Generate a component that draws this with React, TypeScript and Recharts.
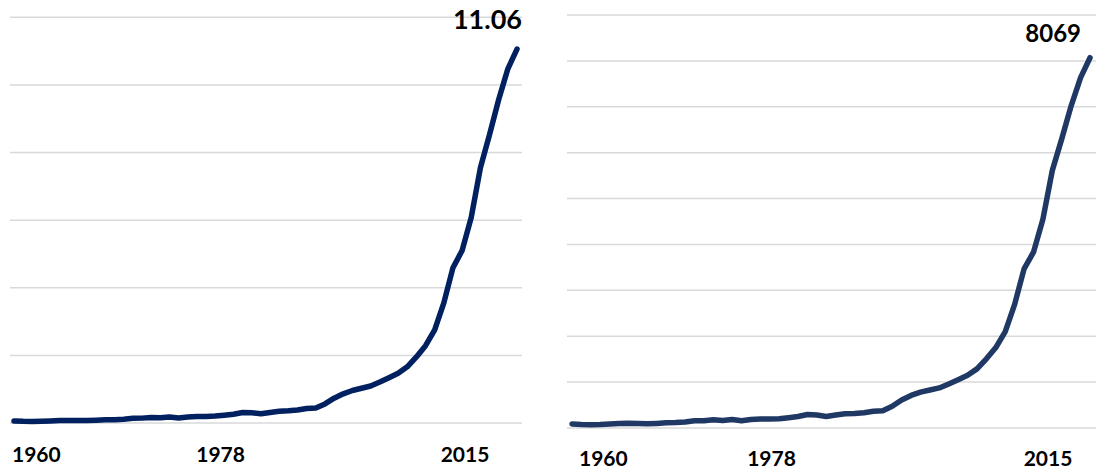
import { LineChart, Line, XAxis, YAxis, CartesianGrid, LabelList } from 'recharts';

// China, 1960-2015 (World Bank series as plotted)
const YEARS = [
  1960, 1961, 1962, 1963, 1964, 1965, 1966, 1967, 1968, 1969,
  1970, 1971, 1972, 1973, 1974, 1975, 1976, 1977, 1978, 1979,
  1980, 1981, 1982, 1983, 1984, 1985, 1986, 1987, 1988, 1989,
  1990, 1991, 1992, 1993, 1994, 1995, 1996, 1997, 1998, 1999,
  2000, 2001, 2002, 2003, 2004, 2005, 2006, 2007, 2008, 2009,
  2010, 2011, 2012, 2013, 2014, 2015,
];

// GDP, trillions of current US$
const GDP_TRILLION = [
  0.0597, 0.05, 0.0472, 0.0507, 0.0597, 0.0704, 0.0767, 0.0729, 0.0709, 0.0797,
  0.0926, 0.0996, 0.1137, 0.1385, 0.1442, 0.1634, 0.1539, 0.1749, 0.1495, 0.1783,
  0.1911, 0.1958, 0.205, 0.2303, 0.2599, 0.3094, 0.3008, 0.2729, 0.3127, 0.3478,
  0.3609, 0.3834, 0.4269, 0.4447, 0.5643, 0.7345, 0.8637, 0.9615, 1.029, 1.094,
  1.2113, 1.3394, 1.4706, 1.6603, 1.9553, 2.286, 2.7521, 3.5522, 4.5944, 5.1017,
  6.0872, 7.5515, 8.5322, 9.5704, 10.4757, 11.06,
];

// GDP per capita, current US$
const GDP_PER_CAPITA = [
  89.5, 75.8, 70.9, 74.3, 85.5, 98.5, 104.3, 96.6, 91.5, 100.1,
  113.2, 118.7, 131.9, 157.1, 160.1, 178.3, 165.4, 185.4, 156.4, 183.9,
  194.8, 197.1, 203.3, 225.4, 250.7, 294.5, 281.9, 251.8, 283.5, 310.9,
  317.9, 333.1, 366.5, 377.4, 473.5, 609.7, 709.4, 781.7, 828.6, 873.3,
  959.4, 1053.1, 1148.5, 1288.6, 1508.7, 1753.4, 2099.2, 2694, 3468.3, 3832.2,
  4550.5, 5614.4, 6300.6, 7020.4, 7636.1, 8069,
];

const YEAR_TICKS = [1960, 1978, 2015];
const GDP_TICKS = [0, 2, 4, 6, 8, 10, 12];
const PER_CAPITA_TICKS = [0, 1000, 2000, 3000, 4000, 5000, 6000, 7000, 8000, 9000];

const gdpData = YEARS.map((year, i) => ({ year, value: GDP_TRILLION[i] }));
const perCapitaData = YEARS.map((year, i) => ({ year, value: GDP_PER_CAPITA[i] }));

const FONT = 'Lato, "Open Sans", sans-serif';

type TickOffsets = Record<number, { dx: number; anchor: 'start' | 'middle' | 'end' }>;

const makeYearTick = (offsets: TickOffsets, dy: number) => (props: any) => {
  const { x, y, payload } = props;
  const o = offsets[payload.value] ?? { dx: 0, anchor: 'middle' };
  return (
    <text
      x={x + o.dx}
      y={y + dy}
      textAnchor={o.anchor}
      fontFamily={FONT}
      fontWeight={700}
      fontSize={21}
      fill="#000"
    >
      {payload.value}
    </text>
  );
};

const makeEndLabel = (lastIndex: number, fmt: (v: number) => string, dx: number, dy: number, size: number) =>
  (props: any) => {
    const { x, y, index, value } = props;
    if (index !== lastIndex) return <g />;
    return (
      <text x={x + dx} y={y + dy} textAnchor="end" fontFamily={FONT} fontWeight={700} fontSize={size} fill="#000">
        {fmt(Number(value))}
      </text>
    );
  };

const leftTick = makeYearTick(
  { 1960: { dx: -2, anchor: 'start' }, 1978: { dx: 42, anchor: 'middle' }, 2015: { dx: -52, anchor: 'middle' } },
  38.5,
);
const rightTick = makeYearTick(
  { 1960: { dx: 7, anchor: 'start' }, 1978: { dx: 30, anchor: 'middle' }, 2015: { dx: -42, anchor: 'middle' } },
  37.7,
);

export default function App() {
  const last = YEARS.length - 1;
  return (
    <div style={{ position: 'absolute', left: 0, top: 0, width: 1096, height: 470, background: '#fff' }}>
      <div style={{ position: 'absolute', left: 0, top: 0 }}>
        <LineChart width={548} height={470} data={gdpData} margin={{ top: 17.3, right: 26, bottom: 0, left: 10 }}>
          <CartesianGrid vertical={false} stroke="#d9d9d9" strokeWidth={1.5} />
          <XAxis
            type="number"
            dataKey="year"
            domain={[1960, 2015]}
            ticks={YEAR_TICKS}
            interval={0}
            padding={{ left: 4, right: 5 }}
            axisLine={false}
            tickLine={false}
            tickSize={0}
            tickMargin={0}
            height={47}
            tick={leftTick}
          />
          <YAxis hide type="number" domain={[0, 12]} ticks={GDP_TICKS} />
          <Line
            type="linear"
            dataKey="value"
            stroke="#002060"
            strokeWidth={5.5}
            strokeLinecap="round"
            strokeLinejoin="round"
            dot={false}
            isAnimationActive={false}
          >
            <LabelList dataKey="value" content={makeEndLabel(last, (v) => v.toFixed(2), 5, -20, 27)} />
          </Line>
        </LineChart>
      </div>
      <div style={{ position: 'absolute', left: 548, top: 0 }}>
        <LineChart width={548} height={470} data={perCapitaData} margin={{ top: 15, right: 0, bottom: 0, left: 19 }}>
          <CartesianGrid vertical={false} stroke="#d9d9d9" strokeWidth={1.5} />
          <XAxis
            type="number"
            dataKey="year"
            domain={[1960, 2015]}
            ticks={YEAR_TICKS}
            interval={0}
            padding={{ left: 5, right: 6 }}
            axisLine={false}
            tickLine={false}
            tickSize={0}
            tickMargin={0}
            height={42}
            tick={rightTick}
          />
          <YAxis hide type="number" domain={[0, 9000]} ticks={PER_CAPITA_TICKS} />
          <Line
            type="linear"
            dataKey="value"
            stroke="#203864"
            strokeWidth={5.5}
            strokeLinecap="round"
            strokeLinejoin="round"
            dot={false}
            isAnimationActive={false}
          >
            <LabelList dataKey="value" content={makeEndLabel(last, (v) => String(Math.round(v)), -9, -16, 24)} />
          </Line>
        </LineChart>
      </div>
    </div>
  );
}
